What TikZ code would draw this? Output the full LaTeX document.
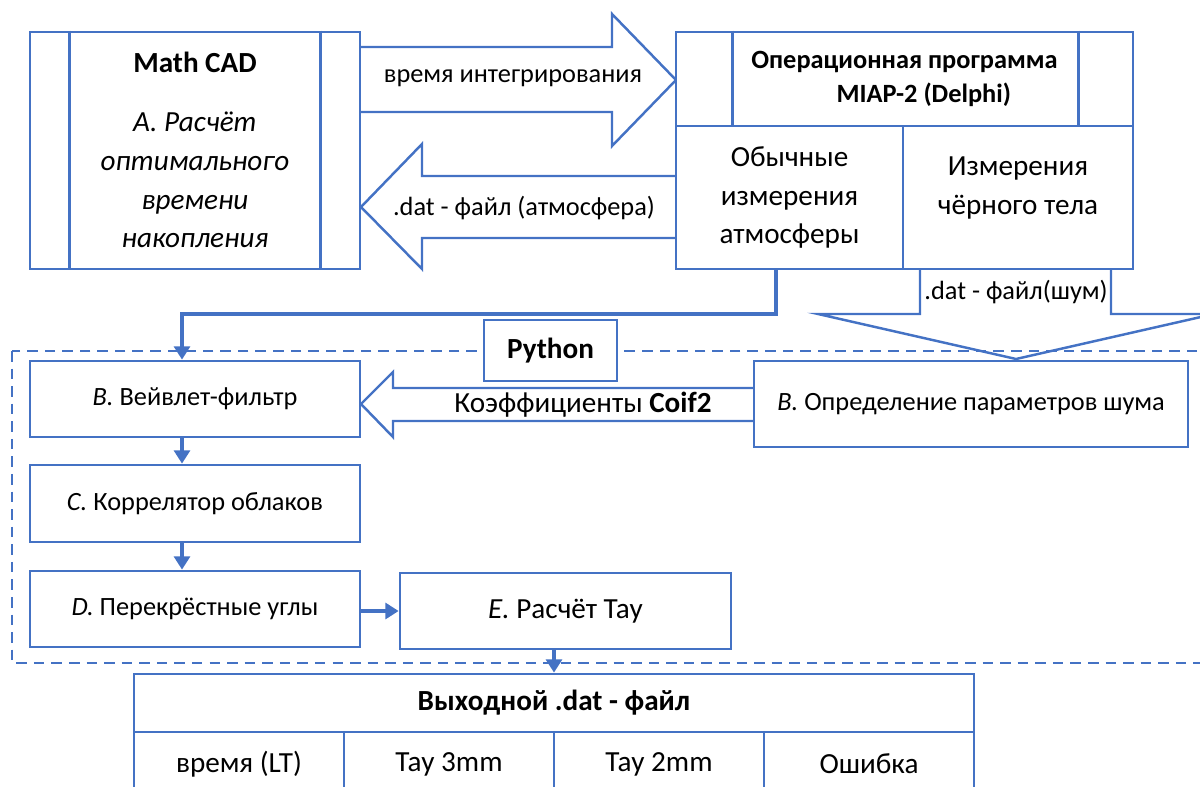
\documentclass[tikz,border=0pt]{standalone}
\usepackage{fontspec}
\setmainfont{Carlito}
\usetikzlibrary{arrows.meta}
\definecolor{office}{RGB}{68,114,196}
\newcommand{\diagfont}{\fontsize{15}{22}\selectfont}
\newcommand{\largefont}{\fontsize{16.6}{22}\selectfont}

\begin{document}
\begin{tikzpicture}[x=0.02cm, y=-0.02cm,
    box/.style = {draw=office, line width=1.6pt, fill=white, inner sep=0pt, align=center, font=\diagfont},
    lbl/.style = {inner sep=0pt, align=center, font=\diagfont},
    blockarrow/.style = {draw=office, line width=1.4pt, line join=miter},
    sep/.style = {draw=office, line width=1.6pt},
    conn/.style = {draw=office, line width=2.2pt, -{Triangle[width=9pt,length=7.5pt]}}]
    \useasboundingbox (0,0) rectangle (1200,787);
    \clip (0,0) rectangle (1200,787);

    % Math CAD
    \node[box, minimum width=6.6cm, minimum height=4.74cm] (mathcad) at (195,150.5) {};
    \draw[sep] ([xshift=0.82cm]mathcad.north west) -- ([xshift=0.82cm]mathcad.south west);
    \draw[sep] ([xshift=-0.82cm]mathcad.north east) -- ([xshift=-0.82cm]mathcad.south east);
    \node[lbl, font=\largefont\bfseries] (mathcadname) at (195,62) {Math CAD};
    \node[lbl, font=\largefont\itshape] (taskA) at (195,180)
        {A. Расчёт\\оптимального\\времени\\накопления};

    % block arrows between the programs
    \draw[blockarrow] (360,47) -- (612,47) -- (612,14) -- (676,80)
        -- (612,146) -- (612,112) -- (360,112);
    \node[lbl] (inttime) at (513,78) {время интегрирования};
    \draw[blockarrow] (676,176) -- (422,176) -- (422,144) -- (361,207)
        -- (422,269) -- (422,238) -- (676,238);
    \node[lbl] (datatm) at (524,208) {.dat - файл (атмосфера)};

    % MIAP-2
    \node[box, minimum width=9.14cm, minimum height=1.88cm,
          font=\fontsize{15}{19}\selectfont\bfseries] (miap) at (904.5,79)
        {Операционная программа\\\hspace*{22pt}MIAP-2 (Delphi)};
    \draw[sep] ([xshift=1.16cm]miap.north west) -- ([xshift=1.16cm]miap.south west);
    \draw[sep] ([xshift=-1.12cm]miap.north east) -- ([xshift=-1.12cm]miap.south east);
    \node[box, minimum width=4.54cm, minimum height=2.86cm, font=\largefont] (ordinary) at (789.5,197.5)
        {Обычные\\измерения\\атмосферы};
    \node[box, minimum width=4.6cm, minimum height=2.86cm] (blackbody) at (1018,197.5) {};
    \node[lbl, font=\largefont] (blackbodytxt) at (1018,188) {Измерения\\чёрного тела};

    \draw[blockarrow] (920,269) -- (920,314) -- (818,314) -- (1016,359)
        -- (1214,314) -- (1111,314) -- (1111,269);
    \node[lbl] (datnoise) at (1016,292) {.dat - файл(шум)};

    % Python
    \draw[office, line width=1.1pt, dash pattern=on 6pt off 4pt] (12,351) rectangle (1215,663);
    \node[box, minimum width=2.66cm, minimum height=1.22cm, font=\largefont\bfseries] (python) at (550.5,350.5) {Python};

    \node[box, minimum width=6.6cm, minimum height=1.52cm] (wavelet) at (195,399)
        {\textit{B.} Вейвлет-фильтр};
    \node[box, minimum width=6.6cm, minimum height=1.54cm] (corr) at (195,503.5)
        {\textit{C.} Коррелятор облаков};
    \node[box, minimum width=6.6cm, minimum height=1.52cm] (cross) at (195,609)
        {\textit{D.} Перекрёстные углы};
    \node[box, minimum width=6.62cm, minimum height=1.52cm, font=\largefont] (tau) at (565.5,611)
        {\textit{E.} Расчёт Тау};
    \node[box, minimum width=8.68cm, minimum height=1.72cm] (noise) at (971,404)
        {\textit{B.} Определение параметров шума};

    \draw[blockarrow] (754,388) -- (393,388) -- (393,372) -- (361,404)
        -- (393,437) -- (393,421) -- (754,421);
    \node[lbl, font=\largefont] (coif) at (583,405) {Коэффициенты \textbf{Coif2}};

    % output file
    \node[box, minimum width=16.8cm, minimum height=1.16cm, font=\largefont\bfseries] (outhead) at (554,703)
        {Выходной .dat - файл};
    \foreach \txt [count=\i] in {время (LT), Тау 3mm, Тау 2mm, Ошибка}
        \node[box, minimum width=4.2cm, minimum height=1.28cm, font=\largefont] (cell\i) at (29+210*\i,764) {\txt};

    % connectors
    \draw[conn] ([xshift=-0.27cm]ordinary.south) -- ++(0,44) -| ([xshift=-0.26cm]wavelet.north);
    \draw[conn] ([xshift=-0.26cm]wavelet.south) -- ([xshift=-0.26cm]corr.north);
    \draw[conn] ([xshift=-0.26cm]corr.south) -- ([xshift=-0.26cm]cross.north);
    \draw[conn] (cross.east |- tau.west) -- (tau.west);
    \draw[conn] (tau.south -| outhead.north) -- (outhead.north);
\end{tikzpicture}
\end{document}
